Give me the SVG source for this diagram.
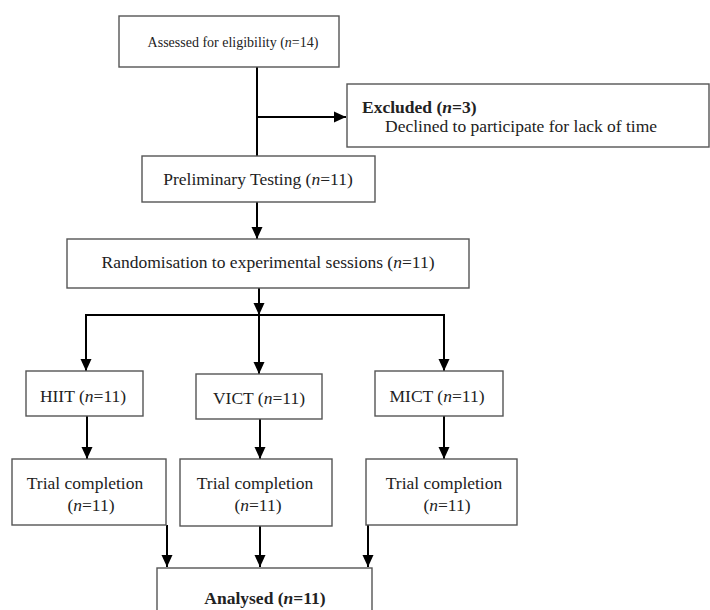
<svg xmlns="http://www.w3.org/2000/svg" width="710" height="610" viewBox="0 0 710 610">
<style>
.box{fill:#fff;stroke:#555;stroke-width:1.4}
.t{font-family:"Liberation Serif","Times New Roman",serif;font-size:17.5px;fill:#222}
.m{text-anchor:middle}
.b{font-weight:bold}
.i{font-style:italic}
.c{fill:none;stroke:#000;stroke-width:2}
</style>
<defs>
<marker id="ah" markerUnits="userSpaceOnUse" markerWidth="12" markerHeight="12" viewBox="0 0 12 12" refX="12" refY="6" orient="auto">
<path d="M0,0.5 L12,6 L0,11.5 Z" fill="#000"/>
</marker>
</defs>
<rect width="710" height="610" fill="#fff"/>
<g id="connectors">
<path class="c" d="M257,67 V156"/>
<path class="c" d="M257,117 H346" marker-end="url(#ah)"/>
<path class="c" d="M257,202 V239" marker-end="url(#ah)"/>
<path class="c" d="M259,288 V315" marker-end="url(#ah)"/>
<path class="c" d="M86,371 V315 H444 V371" marker-end="url(#ah)"/>
<path class="c" d="M86,315 V371" marker-end="url(#ah)"/>
<path class="c" d="M259,315 V374" marker-end="url(#ah)"/>
<path class="c" d="M87,416 V459" marker-end="url(#ah)"/>
<path class="c" d="M260,419 V459" marker-end="url(#ah)"/>
<path class="c" d="M444,416 V459" marker-end="url(#ah)"/>
<path class="c" d="M167,525 V567" marker-end="url(#ah)"/>
<path class="c" d="M260,526 V567" marker-end="url(#ah)"/>
<path class="c" d="M368,525 V567" marker-end="url(#ah)"/>
</g>
<g id="assessed">
<rect class="box" x="119" y="16" width="220" height="51"/>
<text class="t m" x="233" y="47" style="font-size:14px">Assessed for eligibility (<tspan class="i">n</tspan>=14)</text>
</g>
<g id="excluded">
<rect class="box" x="347" y="84" width="362" height="63"/>
<text class="t b" x="362" y="113">Excluded (<tspan class="i">n</tspan>=3)</text>
<text class="t" x="385" y="132">Declined to participate for lack of time</text>
</g>
<g id="preliminary">
<rect class="box" x="142" y="156" width="233" height="46"/>
<text class="t m" x="258" y="185">Preliminary Testing (<tspan class="i">n</tspan>=11)</text>
</g>
<g id="randomisation">
<rect class="box" x="67" y="239" width="402" height="49"/>
<text class="t m" x="268" y="268">Randomisation to experimental sessions (<tspan class="i">n</tspan>=11)</text>
</g>
<g id="hiit">
<rect class="box" x="26" y="371" width="117" height="45"/>
<text class="t m" x="83" y="402">HIIT (<tspan class="i">n</tspan>=11)</text>
</g>
<g id="vict">
<rect class="box" x="196" y="374" width="126" height="45"/>
<text class="t m" x="259" y="404">VICT (<tspan class="i">n</tspan>=11)</text>
</g>
<g id="mict">
<rect class="box" x="375" y="371" width="128" height="45"/>
<text class="t m" x="437" y="402">MICT (<tspan class="i">n</tspan>=11)</text>
</g>
<g id="trial1">
<rect class="box" x="12" y="459" width="154" height="66"/>
<text class="t m" x="85" y="489">Trial completion</text>
<text class="t m" x="91" y="511">(<tspan class="i">n</tspan>=11)</text>
</g>
<g id="trial2">
<rect class="box" x="180" y="459" width="152" height="67"/>
<text class="t m" x="255" y="489">Trial completion</text>
<text class="t m" x="258" y="511">(<tspan class="i">n</tspan>=11)</text>
</g>
<g id="trial3">
<rect class="box" x="366" y="459" width="151" height="66"/>
<text class="t m" x="444" y="489">Trial completion</text>
<text class="t m" x="447" y="511">(<tspan class="i">n</tspan>=11)</text>
</g>
<g id="analysed">
<rect class="box" x="157" y="568" width="215" height="60"/>
<text class="t m b" x="265" y="604">Analysed (<tspan class="i">n</tspan>=11)</text>
</g>
</svg>
